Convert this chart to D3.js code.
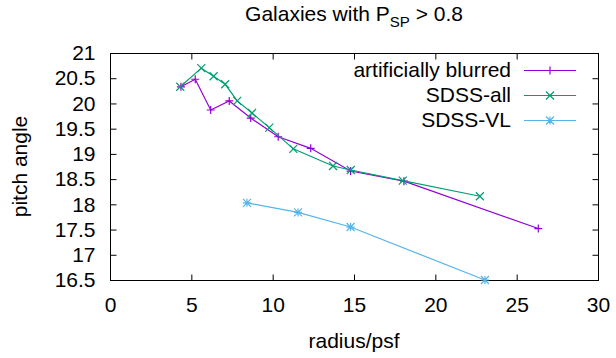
<!DOCTYPE html>
<html lang="en">
<head>
  <script src="https://d3js.org/d3.v7.min.js"></script>
  <style>
    body { margin: 0; background: white; }
    text { font-family: "Liberation Sans", Arial, sans-serif; }
  </style>
</head>
<body>
<script>
// values
var blurredR = [4.36, 5.24, 6.19, 7.33, 8.65, 10.34, 12.34, 14.79, 18.07, 26.33];
var blurredA = [20.33, 20.48, 19.87, 20.05, 19.71, 19.34, 19.11, 18.66, 18.46, 17.52];

var allR = [4.32, 5.61, 6.37, 7.08, 7.82, 8.73, 9.79, 11.27, 13.71, 14.8, 18.0, 22.74];
var allA = [20.33, 20.70, 20.54, 20.38, 20.05, 19.81, 19.52, 19.10, 18.76, 18.68, 18.47, 18.16];

var vlR = [8.42, 11.56, 14.79, 23.05];
var vlA = [18.03, 17.84, 17.55, 16.5];

var xTicks = [0, 5, 10, 15, 20, 25, 30];
var yTicks = [16.5, 17, 17.5, 18, 18.5, 19, 19.5, 20, 20.5, 21];

var seriesNames = ["artificially blurred", "SDSS-all", "SDSS-VL"];
var seriesColors = ["#9400d3", "#009e73", "#56b4e9"];
var seriesMarks = ["plus", "cross", "star"];

var W = 616, H = 358;
var plotL = 110, plotR = 598, plotT = 53, plotB = 280;
var fs = 21;

var svg = d3.select("body").append("svg")
  .attr("width", W)
  .attr("height", H);

var x = d3.scaleLinear().domain([0, 30]).range([plotL, plotR]);
var y = d3.scaleLinear().domain([16.5, 21]).range([plotB, plotT]);

// ticks on all four sides, pointing inward, like gnuplot
function styleAxis(g) {
  g.select(".domain").remove();
  g.selectAll("line").attr("stroke", "#000");
  g.selectAll("text").attr("font-size", fs).attr("fill", "#000").attr("font-family", null);
}

svg.append("g")
  .attr("transform", "translate(0," + (plotB + 0.5) + ")")
  .call(d3.axisBottom(x).tickValues(xTicks).tickSize(-6).tickPadding(17).tickFormat(d3.format("d")))
  .call(styleAxis);
svg.append("g")
  .attr("transform", "translate(0," + (plotT + 0.5) + ")")
  .call(d3.axisTop(x).tickValues(xTicks).tickSize(-6).tickFormat(""))
  .call(styleAxis);
svg.append("g")
  .attr("transform", "translate(" + (plotL + 0.5) + ",0)")
  .call(d3.axisLeft(y).tickValues(yTicks).tickSize(-6).tickPadding(15).tickFormat(function (d) { return String(d); }))
  .call(styleAxis);
svg.append("g")
  .attr("transform", "translate(" + (plotR + 0.5) + ",0)")
  .call(d3.axisRight(y).tickValues(yTicks).tickSize(-6).tickFormat(""))
  .call(styleAxis);

svg.append("rect")
  .attr("x", plotL + 0.5)
  .attr("y", plotT + 0.5)
  .attr("width", plotR - plotL)
  .attr("height", plotB - plotT)
  .attr("fill", "none")
  .attr("stroke", "#000")
  .attr("stroke-width", 1);

function markerPath(kind, cx, cy) {
  var s = 4;
  var plus = "M" + (cx - s) + "," + cy + "H" + (cx + s) + "M" + cx + "," + (cy - s) + "V" + (cy + s);
  var cross = "M" + (cx - s) + "," + (cy - s) + "L" + (cx + s) + "," + (cy + s) +
    "M" + (cx - s) + "," + (cy + s) + "L" + (cx + s) + "," + (cy - s);
  if (kind == "plus") return plus;
  if (kind == "cross") return cross;
  return plus + cross;
}

var series = [
  { r: blurredR, a: blurredA },
  { r: allR, a: allA },
  { r: vlR, a: vlA }
];

var line = d3.line()
  .x(function (d) { return x(d[0]); })
  .y(function (d) { return y(d[1]); });

var plot = svg.append("g");

series.forEach(function (s, i) {
  var pts = s.r.map(function (r, j) { return [r, s.a[j]]; });
  plot.append("path")
    .datum(pts)
    .attr("d", line)
    .attr("fill", "none")
    .attr("stroke", seriesColors[i])
    .attr("stroke-width", 1.2);
  plot.selectAll(".m" + i)
    .data(pts)
    .enter()
    .append("path")
    .attr("class", "m" + i)
    .attr("d", function (d) { return markerPath(seriesMarks[i], x(d[0]), y(d[1])); })
    .attr("stroke", seriesColors[i])
    .attr("stroke-width", 1.2)
    .attr("fill", "none");
});

// legend
var legend = svg.append("g");
seriesNames.forEach(function (name, i) {
  var ly = 70 + i * 25;
  legend.append("text")
    .attr("x", 511)
    .attr("y", ly)
    .attr("dy", "0.35em")
    .attr("text-anchor", "end")
    .attr("font-size", fs)
    .text(name);
  legend.append("line")
    .attr("x1", 524).attr("x2", 576)
    .attr("y1", ly + 0.5).attr("y2", ly + 0.5)
    .attr("stroke", seriesColors[i])
    .attr("stroke-width", 1.2);
  legend.append("path")
    .attr("d", markerPath(seriesMarks[i], 550, ly + 0.5))
    .attr("stroke", seriesColors[i])
    .attr("stroke-width", 1.2)
    .attr("fill", "none");
});

// title with subscript
var title = svg.append("text")
  .attr("x", (plotL + plotR) / 2)
  .attr("y", 21)
  .attr("text-anchor", "middle")
  .attr("font-size", fs);
title.append("tspan").text("Galaxies with P");
title.append("tspan").attr("font-size", 15).attr("dy", 6).text("SP");
title.append("tspan").attr("dy", -6).text(" > 0.8");

svg.append("text")
  .attr("x", (plotL + plotR) / 2)
  .attr("y", 348)
  .attr("text-anchor", "middle")
  .attr("font-size", fs)
  .text("radius/psf");

svg.append("text")
  .attr("transform", "translate(27," + ((plotT + plotB) / 2) + ") rotate(-90)")
  .attr("text-anchor", "middle")
  .attr("font-size", fs)
  .text("pitch angle");
</script>
</body>
</html>
